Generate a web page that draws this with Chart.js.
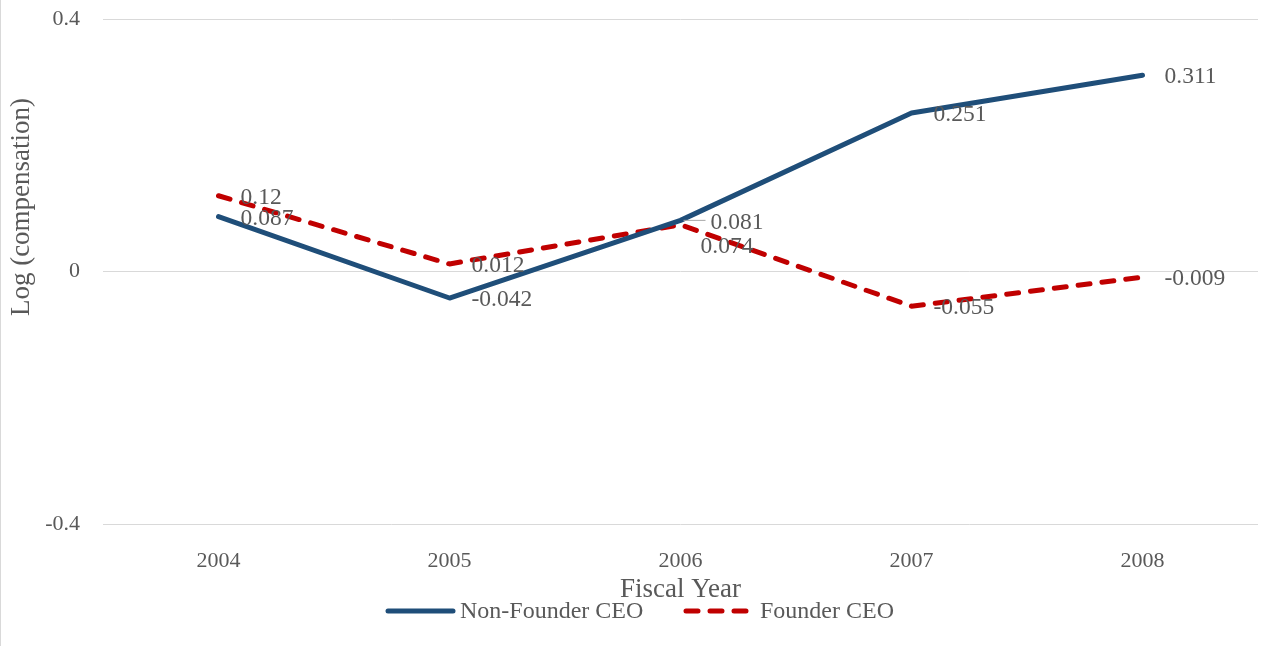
<!DOCTYPE html>
<html>
<head>
<meta charset="utf-8">
<script src="https://cdn.jsdelivr.net/npm/chart.js@4.4.1/dist/chart.umd.min.js"></script>
<style>
html,body{margin:0;padding:0;background:#fff;}
canvas{display:block;}
</style>
</head>
<body>
<canvas id="c" width="1262" height="646"></canvas>
<script>
const categories = ['2004', '2005', '2006', '2007', '2008'];
const nonFounder = [0.087, -0.042, 0.081, 0.251, 0.311];
const founder = [0.12, 0.012, 0.074, -0.055, -0.009];
const yTicks = [-0.4, 0, 0.4];
const seriesNames = ['Non-Founder CEO', 'Founder CEO'];
const xTitle = 'Fiscal Year';
const yTitle = 'Log (compensation)';

const TEXT = '#595959';
const FONT = '"Liberation Serif", "Times New Roman", serif';
const BLUE = '#1F4E79';
const RED = '#C00000';

const labelPlugin = {
  id: 'extras',
  afterDraw(chart, args, opts) {
    const ctx = chart.ctx;
    const area = chart.chartArea;
    ctx.save();
    ctx.strokeStyle = '#D9D9D9';
    ctx.lineWidth = 1;
    ctx.beginPath(); ctx.moveTo(0.5, 0); ctx.lineTo(0.5, chart.height); ctx.stroke();

    ctx.font = '23.5px ' + FONT;
    ctx.fillStyle = TEXT;
    ctx.textAlign = 'left';
    ctx.textBaseline = 'middle';
    chart.data.datasets.forEach((ds, di) => {
      const meta = chart.getDatasetMeta(di);
      meta.data.forEach((pt, i) => {
        const o = (opts.offsets[di] && opts.offsets[di][i]) || {dx: 22, dy: 2};
        const txt = String(ds.data[i]);
        if (o.leader) {
          ctx.strokeStyle = '#A6A6A6';
          ctx.lineWidth = 1;
          ctx.setLineDash([]);
          ctx.beginPath();
          ctx.moveTo(pt.x + 3, pt.y);
          ctx.lineTo(pt.x + o.dx - 5, pt.y);
          ctx.stroke();
        }
        ctx.fillText(txt, pt.x + o.dx, pt.y + o.dy);
      });
    });

    ctx.font = '27px ' + FONT;
    ctx.textAlign = 'center';
    ctx.fillText(xTitle, (area.left + area.right) / 2, 590);
    ctx.save();
    ctx.translate(22, 207);
    ctx.rotate(-Math.PI / 2);
    ctx.fillText(yTitle, 0, 0);
    ctx.restore();

    const ly = 611;
    ctx.font = '24px ' + FONT;
    ctx.textAlign = 'left';
    ctx.lineCap = 'round';
    ctx.lineWidth = 5;
    ctx.strokeStyle = BLUE;
    ctx.setLineDash([]);
    ctx.beginPath(); ctx.moveTo(388, ly); ctx.lineTo(453, ly); ctx.stroke();
    ctx.fillText(seriesNames[0], 460, ly + 1);
    ctx.strokeStyle = RED;
    ctx.setLineDash([12, 12]);
    ctx.beginPath(); ctx.moveTo(686, ly); ctx.lineTo(746, ly); ctx.stroke();
    ctx.setLineDash([]);
    ctx.fillText(seriesNames[1], 760, ly + 1);
    ctx.restore();
  }
};

new Chart(document.getElementById('c'), {
  type: 'line',
  data: {
    labels: categories,
    datasets: [
      {label: seriesNames[0], data: nonFounder, borderColor: BLUE, backgroundColor: BLUE,
       borderWidth: 5, pointRadius: 0, tension: 0, borderCapStyle: 'round', borderJoinStyle: 'round'},
      {label: seriesNames[1], data: founder, borderColor: RED, backgroundColor: RED,
       borderWidth: 5, pointRadius: 0, tension: 0, borderDash: [12, 12], borderCapStyle: 'round', borderJoinStyle: 'round'}
    ]
  },
  options: {
    responsive: false,
    animation: false,
    devicePixelRatio: 1,
    layout: {padding: {top: 19, right: 4, left: 0, bottom: 0}},
    plugins: {
      legend: {display: false},
      tooltip: {enabled: false},
      extras: {
        offsets: {
          0: {2: {dx: 30, dy: 2, leader: true}},
          1: {2: {dx: 20, dy: 22}}
        }
      }
    },
    scales: {
      x: {
        offset: true,
        grid: {display: false},
        border: {display: false},
        ticks: {color: TEXT, font: {family: FONT, size: 22}, padding: 16},
        afterFit(s) { s.height = 122; s.paddingLeft = 0; s.paddingRight = 0; }
      },
      y: {
        min: -0.4, max: 0.4,
        afterBuildTicks(s) { s.ticks = yTicks.map(v => ({value: v})); },
        grid: {color: '#D9D9D9', lineWidth: 1, drawTicks: false},
        border: {display: false},
        ticks: {color: TEXT, font: {family: FONT, size: 22}, padding: 23,
                callback: v => String(v)},
        afterFit(s) { s.width = 103; s.paddingTop = 0; s.paddingBottom = 0; }
      }
    }
  },
  plugins: [labelPlugin]
});
</script>
</body>
</html>
